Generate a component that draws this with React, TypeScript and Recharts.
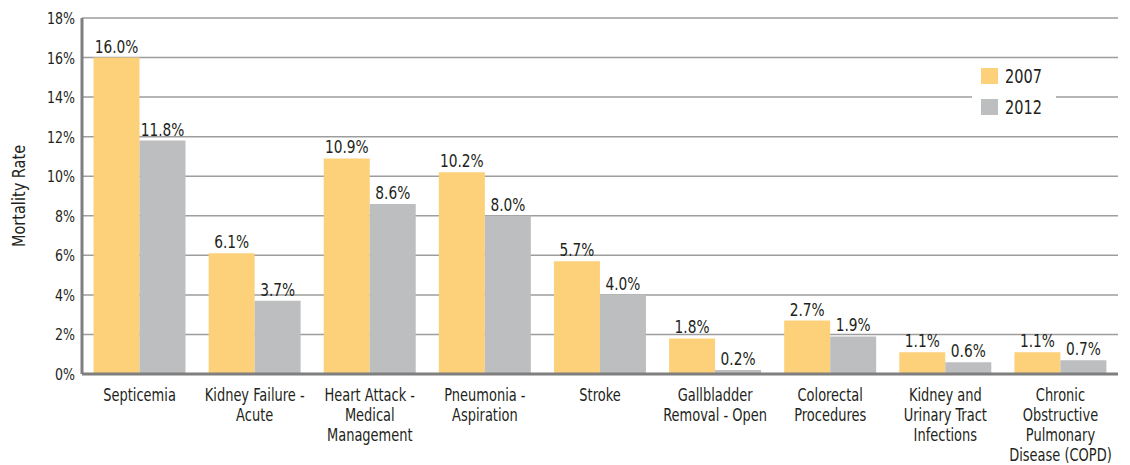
import React from 'react';
import { BarChart, Bar, XAxis, YAxis, CartesianGrid, LabelList, Label } from 'recharts';

const categories = [
  'Septicemia',
  'Kidney Failure -\nAcute',
  'Heart Attack -\nMedical\nManagement',
  'Pneumonia -\nAspiration',
  'Stroke',
  'Gallbladder\nRemoval - Open',
  'Colorectal\nProcedures',
  'Kidney and\nUrinary Tract\nInfections',
  'Chronic\nObstructive\nPulmonary\nDisease (COPD)',
];
const values2007 = [16.0, 6.1, 10.9, 10.2, 5.7, 1.8, 2.7, 1.1, 1.1];
const values2012 = [11.8, 3.7, 8.6, 8.0, 4.0, 0.2, 1.9, 0.6, 0.7];
const yTicks = [0, 2, 4, 6, 8, 10, 12, 14, 16, 18];
const seriesNames = ['2007', '2012'];

const FONT = '"DejaVu Sans Condensed", "DejaVu Sans", sans-serif';
const TEXT = '#231f20';
const SX = 0.85;
const COLORS = ['#FDD17A', '#BDBEC0'];

const data = categories.map((c, i) => ({ name: c, y2007: values2007[i], y2012: values2012[i] }));

const XTick = (props: any) => {
  const { x, y, payload } = props;
  const lines = String(payload.value).split('\n');
  return (
    <g transform={`translate(${x},${y})`}>
      <text transform={`scale(${SX},1)`} x={0} y={0} textAnchor="middle" fill={TEXT} fontSize={17} fontFamily={FONT}>
        {lines.map((l, i) => (
          <tspan key={i} x={0} dy={i === 0 ? 19 : 20}>{l}</tspan>
        ))}
      </text>
    </g>
  );
};

const YTick = (props: any) => {
  const { x, y, payload } = props;
  return (
    <g transform={`translate(${x + 1},${y})`}>
      <text transform={`scale(${SX},1)`} x={0} y={0} dy={6} textAnchor="end" fill={TEXT} fontSize={16.5} fontFamily={FONT}>
        {`${payload.value}%`}
      </text>
    </g>
  );
};

const BarLabel = (props: any) => {
  const { x, y, width, value } = props;
  return (
    <g transform={`translate(${x + width / 2},${y - 5})`}>
      <text transform={`scale(${SX},1)`} x={0} y={0} textAnchor="middle" fill={TEXT} fontSize={18} fontFamily={FONT}>
        {`${Number(value).toFixed(1)}%`}
      </text>
    </g>
  );
};

const YLabel = (props: any) => {
  const { viewBox } = props;
  const cy = viewBox.y + viewBox.height / 2;
  return (
    <g transform={`translate(25,${cy}) rotate(-90)`}>
      <text transform="scale(0.95,1)" x={0} y={0} textAnchor="middle" fill={TEXT} fontSize={17} fontFamily={FONT}>
        Mortality Rate
      </text>
    </g>
  );
};

export default function App() {
  return (
    <div style={{ position: 'absolute', left: 0, top: 0, width: 1130, height: 465, background: '#fff' }}>
      <BarChart
        width={1130}
        height={465}
        data={data}
        margin={{ top: 18, right: 12, bottom: 0, left: 0 }}
        barGap={0}
        barCategoryGap="10%"
      >
        <CartesianGrid vertical={false} stroke="#9d9d9d" strokeWidth={1.5} />
        <XAxis
          dataKey="name"
          interval={0}
          tick={<XTick />}
          tickLine={false}
          axisLine={{ stroke: '#7f7f7f', strokeWidth: 3 }}
          height={91}
        />
        <YAxis
          domain={[0, 18]}
          ticks={yTicks}
          tick={<YTick />}
          tickLine={false}
          axisLine={{ stroke: '#7f7f7f', strokeWidth: 3 }}
          width={82}
        >
          <Label content={<YLabel />} />
        </YAxis>
        <Bar dataKey="y2007" name={seriesNames[0]} fill={COLORS[0]} isAnimationActive={false}>
          <LabelList dataKey="y2007" content={<BarLabel />} />
        </Bar>
        <Bar dataKey="y2012" name={seriesNames[1]} fill={COLORS[1]} isAnimationActive={false}>
          <LabelList dataKey="y2012" content={<BarLabel />} />
        </Bar>
      </BarChart>
      <div style={{ position: 'absolute', left: 972, top: 62, width: 84, height: 64, background: '#fff' }}>
        {seriesNames.map((n, i) => (
          <div key={n} style={{ position: 'absolute', left: 9, top: 2 + i * 31, height: 24, display: 'flex', alignItems: 'center' }}>
            <div style={{ width: 17, height: 16, background: COLORS[i], marginRight: 7 }} />
            <span style={{ display: 'inline-block', fontFamily: FONT, fontSize: 19, color: TEXT, transform: `scaleX(${SX})`, transformOrigin: 'left center', lineHeight: '24px' }}>{n}</span>
          </div>
        ))}
      </div>
    </div>
  );
}
